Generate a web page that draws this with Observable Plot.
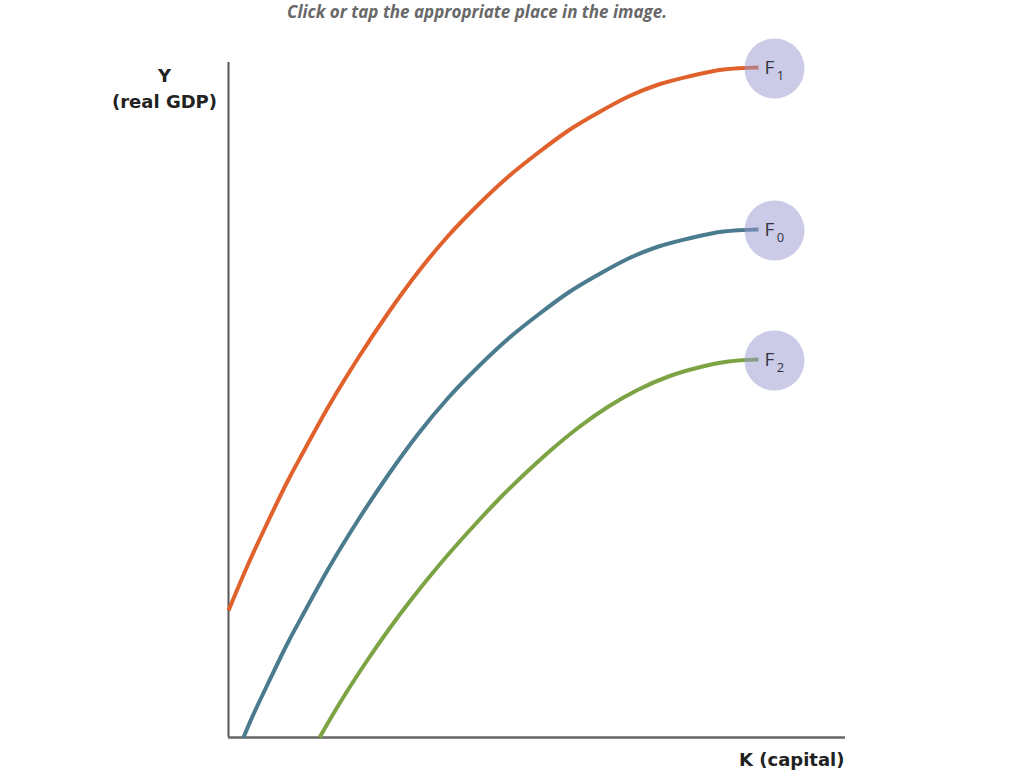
<!DOCTYPE html>
<html>
<head>
<meta charset="utf-8">
<script src="https://cdn.jsdelivr.net/npm/d3@7"></script>
<script src="https://cdn.jsdelivr.net/npm/@observablehq/plot@0.6"></script>
<style>
  html, body { margin: 0; padding: 0; background: #fff; }
  #title {
    position: absolute; top: 0; left: 0; width: 954px; text-align: center;
    font-family: "Open Sans", sans-serif; font-style: italic; font-weight: 700;
    font-size: 17px; color: #686868; line-height: 23px;
  }
  #chart { position: absolute; top: 30px; left: 0; }
</style>
</head>
<body>
<div id="title">Click or tap the appropriate place in the image.</div>
<div id="chart"></div>
<script>
// Production functions (K = capital, Y = real GDP, arbitrary units)
const K_F1 = [0, 20, 40, 60, 74, 100, 130, 160, 190, 220, 250, 280, 310, 340, 370, 400, 430, 460, 495, 530];
const Y_F1 = [127, 174, 217, 258, 284, 331, 380, 425, 466, 502, 533, 561, 585, 607, 625, 641, 653, 661, 668, 670];

const K_F0 = [15, 20, 40, 60, 74, 100, 130, 160, 190, 220, 250, 280, 310, 340, 370, 400, 430, 460, 495, 530];
const Y_F0 = [0, 12, 55, 96, 122, 169, 218, 263, 304, 340, 371, 399, 423, 445, 463, 479, 491, 499, 506, 508];

const K_F2 = [91, 111, 136, 161, 182, 212, 242, 272, 302, 322, 350, 380, 410, 440, 470, 500, 530];
const Y_F2 = [0, 34, 73, 109, 137, 174, 208, 240, 269, 287, 310, 331, 348, 361, 370, 376, 378];

const seriesNames = ["F1", "F0", "F2"];
const subscripts = ["1", "0", "2"];
const colors = ["#e0612b", "#4a7b8e", "#7ca344"];
const xDomain = [0, 617];
const yDomain = [0, 675];
const yLabel = ["Y", "(real GDP)"];
const xLabel = "K (capital)";

const ks = [K_F1, K_F0, K_F2];
const ys = [Y_F1, Y_F0, Y_F2];
const rows = [];
seriesNames.forEach((s, i) => ks[i].forEach((k, j) => rows.push({series: s, K: k, Y: ys[i][j]})));
const ends = seriesNames.map((s, i) => ({
  series: s, sub: subscripts[i],
  K: ks[i][ks[i].length - 1], Y: ys[i][ys[i].length - 1]
}));

const font = "'DejaVu Sans', sans-serif";

const plot = Plot.plot({
  width: 1024,
  height: 740,
  marginLeft: 228,
  marginRight: 179,
  marginTop: 32,
  marginBottom: 33,
  x: {domain: xDomain, axis: null},
  y: {domain: yDomain, axis: null},
  color: {domain: seriesNames, range: colors},
  style: {fontFamily: font, background: "white"},
  marks: [
    Plot.ruleX([0], {stroke: "#555", strokeWidth: 2}),
    Plot.ruleY([0], {stroke: "#666", strokeWidth: 2.5}),
    Plot.line(rows, {x: "K", y: "Y", z: "series", stroke: "series", strokeWidth: 4,
      curve: "monotone-x", strokeLinecap: "butt"}),
    Plot.dot(ends, {x: "K", y: "Y", dx: 16, dy: 1, r: 30, fill: "#9797d1", fillOpacity: 0.5, stroke: "none"}),
    Plot.text(ends, {x: "K", y: "Y", text: () => "F", dx: 11, dy: 0, fontSize: 19, fill: "#333340",
      fontFamily: "'Open Sans', sans-serif"}),
    Plot.text(ends, {x: "K", y: "Y", text: "sub", dx: 22, dy: 8, fontSize: 13, fill: "#333340",
      fontFamily: "'Open Sans', sans-serif"}),
    Plot.text([yLabel[0]], {frameAnchor: "top-left", text: d => d, dx: -64, dy: 14,
      textAnchor: "middle", lineAnchor: "middle", fontSize: 18, fontWeight: "bold", fill: "#222"}),
    Plot.text([yLabel[1]], {frameAnchor: "top-left", text: d => d, dx: -64, dy: 40,
      textAnchor: "middle", lineAnchor: "middle", fontSize: 18, fontWeight: "bold", fill: "#222"}),
    Plot.text([xLabel], {frameAnchor: "bottom-right", text: d => d, dx: -1, dy: 23,
      textAnchor: "end", lineAnchor: "middle", fontSize: 18, fontWeight: "bold", fill: "#222"})
  ]
});
document.getElementById("chart").appendChild(plot);
</script>
</body>
</html>
